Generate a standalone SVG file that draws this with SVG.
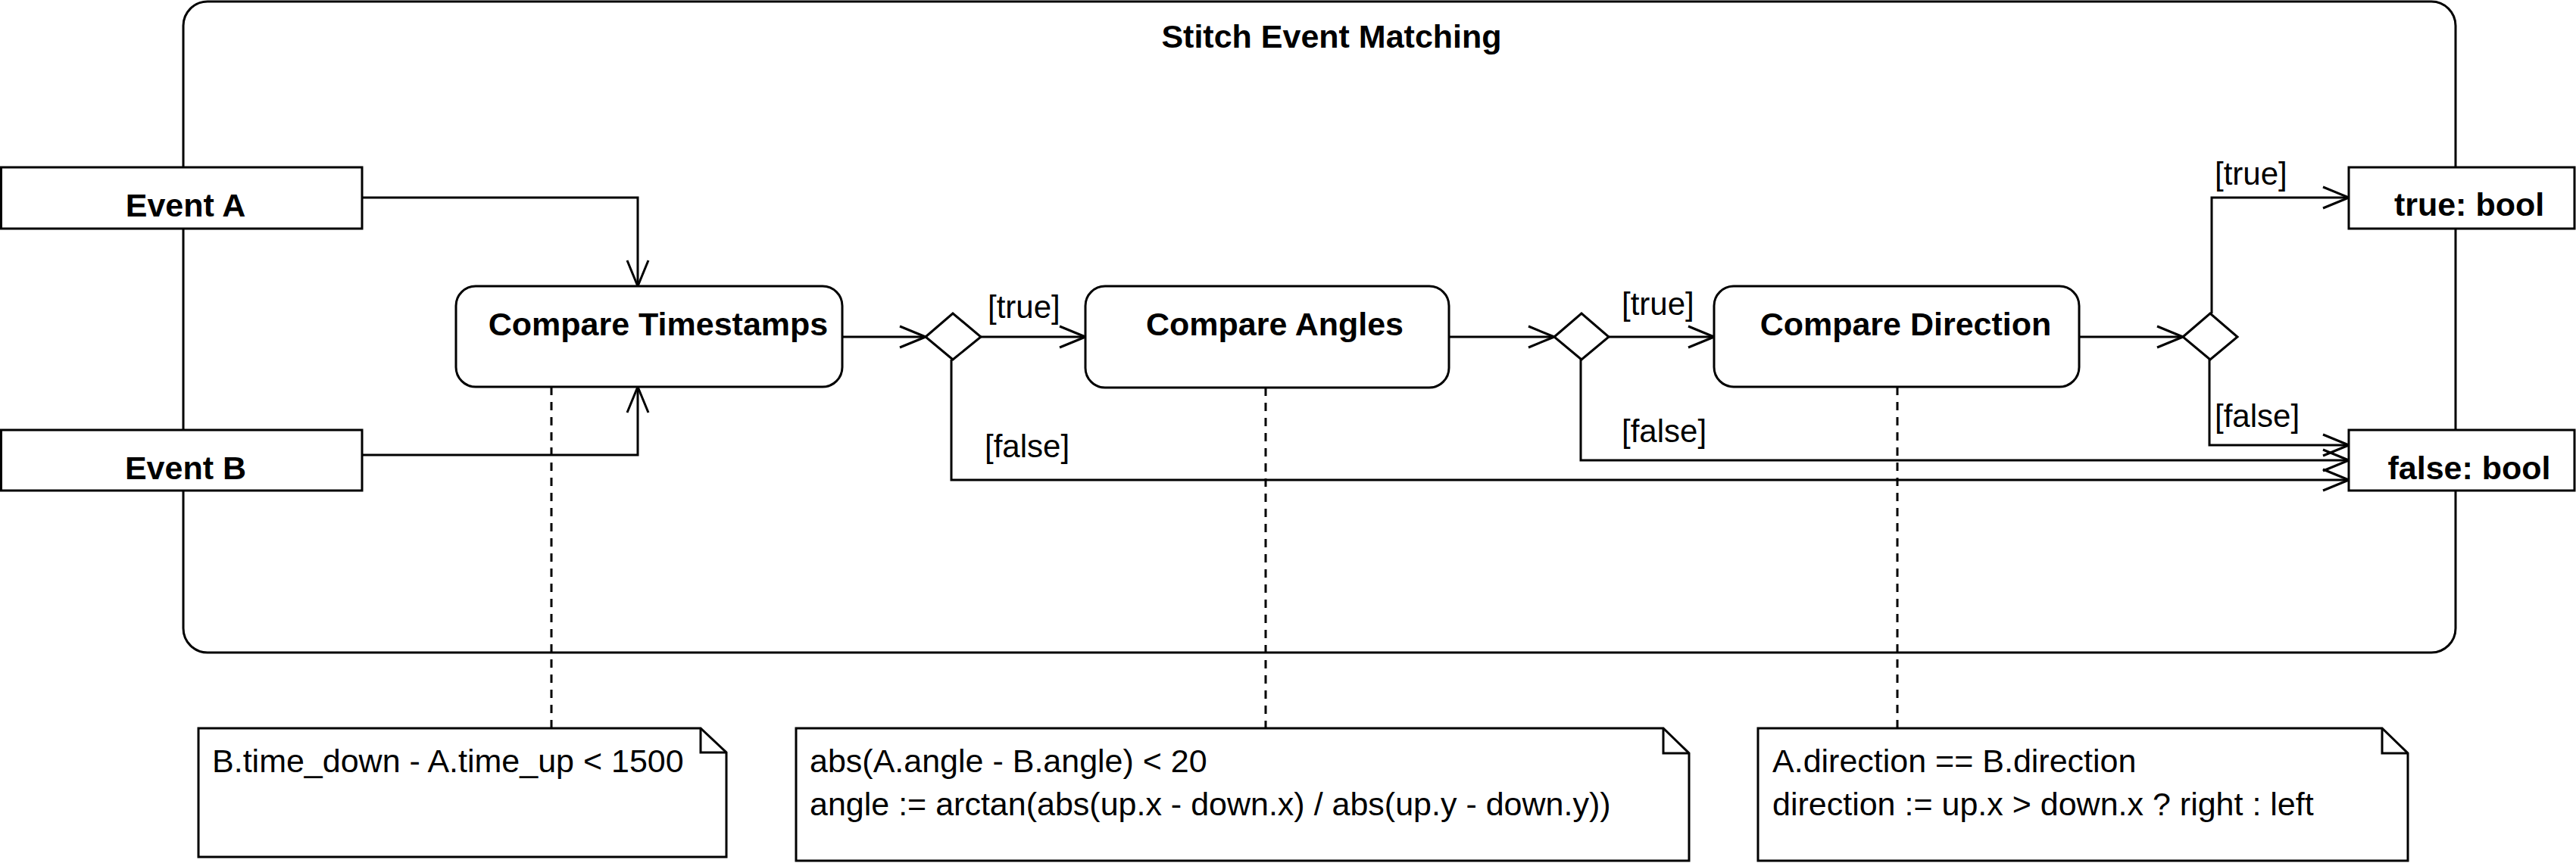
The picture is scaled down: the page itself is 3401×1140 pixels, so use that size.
<svg xmlns="http://www.w3.org/2000/svg" width="3401" height="1140" viewBox="0 0 3401 1140">
<style>
  .shape { fill: #ffffff; stroke: #000000; stroke-width: 3; }
  .frame { fill: none; stroke: #000000; stroke-width: 3; }
  .conn { fill: none; stroke: #000000; stroke-width: 3; }
  .dash { fill: none; stroke: #000000; stroke-width: 3; stroke-dasharray: 11 9; }
  .bold { font-family: "Liberation Sans", Arial, sans-serif; font-weight: bold; font-size: 43px; fill: #000000; }
  .reg { font-family: "Liberation Sans", Arial, sans-serif; font-size: 43px; fill: #000000; }
  .lbl { font-family: "Liberation Sans", Arial, sans-serif; font-size: 42px; fill: #000000; }
</style>
<defs>
  <marker id="open" viewBox="-37 -17 40 34" markerWidth="40" markerHeight="34" refX="0" refY="0" orient="auto" markerUnits="userSpaceOnUse">
    <path d="M-34,-14 L0,0 L-34,14" fill="none" stroke="#000000" stroke-width="3"/>
  </marker>
</defs>
<rect width="3401" height="1140" fill="#ffffff"/>

<g id="frame">
  <rect class="frame" x="242" y="2" width="3000" height="860" rx="32" ry="32"/>
  <text class="bold" x="1758" y="63" text-anchor="middle">Stitch Event Matching</text>
</g>

<g id="connectors">
  <path class="dash" d="M728,511 V962"/>
  <path class="dash" d="M1671,512 V962"/>
  <path class="dash" d="M2505,511 V962"/>
  <path class="conn" d="M478,261 H842 V378" marker-end="url(#open)"/>
  <path class="conn" d="M478,601 H842 V511" marker-end="url(#open)"/>
  <path class="conn" d="M1112,445 H1222" marker-end="url(#open)"/>
  <path class="conn" d="M1295,445 H1433" marker-end="url(#open)"/>
  <path class="conn" d="M1256,475 V634 H3101" marker-end="url(#open)"/>
  <path class="conn" d="M1913,445 H2052" marker-end="url(#open)"/>
  <path class="conn" d="M2124,445 H2263" marker-end="url(#open)"/>
  <path class="conn" d="M2087,475 V608 H3101" marker-end="url(#open)"/>
  <path class="conn" d="M2745,445 H2882" marker-end="url(#open)"/>
  <path class="conn" d="M2920,414 V261 H3101" marker-end="url(#open)"/>
  <path class="conn" d="M2917,475 V588 H3101" marker-end="url(#open)"/>
  <text class="lbl" x="1304" y="420">[true]</text>
  <text class="lbl" x="1300" y="604">[false]</text>
  <text class="lbl" x="2141" y="416">[true]</text>
  <text class="lbl" x="2141" y="584">[false]</text>
  <text class="lbl" x="2924" y="244">[true]</text>
  <text class="lbl" x="2924" y="564">[false]</text>
</g>

<g id="event-a">
  <rect class="shape" x="1.5" y="221" width="476.5" height="81"/>
  <text class="bold" x="245" y="286" text-anchor="middle">Event A</text>
</g>
<g id="event-b">
  <rect class="shape" x="1.5" y="568" width="476.5" height="80"/>
  <text class="bold" x="245" y="633" text-anchor="middle">Event B</text>
</g>
<g id="true-bool">
  <rect class="shape" x="3101" y="221" width="298" height="81"/>
  <text class="bold" x="3260" y="285" text-anchor="middle">true: bool</text>
</g>
<g id="false-bool">
  <rect class="shape" x="3101" y="568" width="298" height="80"/>
  <text class="bold" x="3260" y="633" text-anchor="middle">false: bool</text>
</g>

<g id="compare-timestamps">
  <rect class="shape" x="602" y="378" width="510" height="133" rx="26" ry="26"/>
  <text class="bold" x="869" y="443" text-anchor="middle">Compare Timestamps</text>
</g>
<g id="compare-angles">
  <rect class="shape" x="1433" y="378" width="480" height="134" rx="26" ry="26"/>
  <text class="bold" x="1683" y="443" text-anchor="middle">Compare Angles</text>
</g>
<g id="compare-direction">
  <rect class="shape" x="2263" y="378" width="482" height="133" rx="26" ry="26"/>
  <text class="bold" x="2516" y="443" text-anchor="middle">Compare Direction</text>
</g>

<g id="decision-1">
  <polygon class="shape" points="1222,445 1258,414 1295,445 1258,475"/>
</g>
<g id="decision-2">
  <polygon class="shape" points="2052,445 2088,414 2124,445 2088,475"/>
</g>
<g id="decision-3">
  <polygon class="shape" points="2882,445 2918,414 2954,445 2918,475"/>
</g>

<g id="note-1">
  <path class="shape" d="M262,962 H925 L959,994 V1132 H262 Z"/>
  <path class="conn" d="M925,962 V994 H959"/>
  <text class="reg" x="280" y="1020">B.time_down - A.time_up &lt; 1500</text>
</g>
<g id="note-2">
  <path class="shape" d="M1051,962 H2196 L2230,995 V1137 H1051 Z"/>
  <path class="conn" d="M2196,962 V995 H2230"/>
  <text class="reg" x="1069" y="1020">abs(A.angle - B.angle) &lt; 20</text>
  <text class="reg" x="1069" y="1077">angle := arctan(abs(up.x - down.x) / abs(up.y - down.y))</text>
</g>
<g id="note-3">
  <path class="shape" d="M2321,962 H3145 L3179,995 V1137 H2321 Z"/>
  <path class="conn" d="M3145,962 V995 H3179"/>
  <text class="reg" x="2340" y="1020">A.direction == B.direction</text>
  <text class="reg" x="2340" y="1077">direction := up.x &gt; down.x ? right : left</text>
</g>
</svg>
